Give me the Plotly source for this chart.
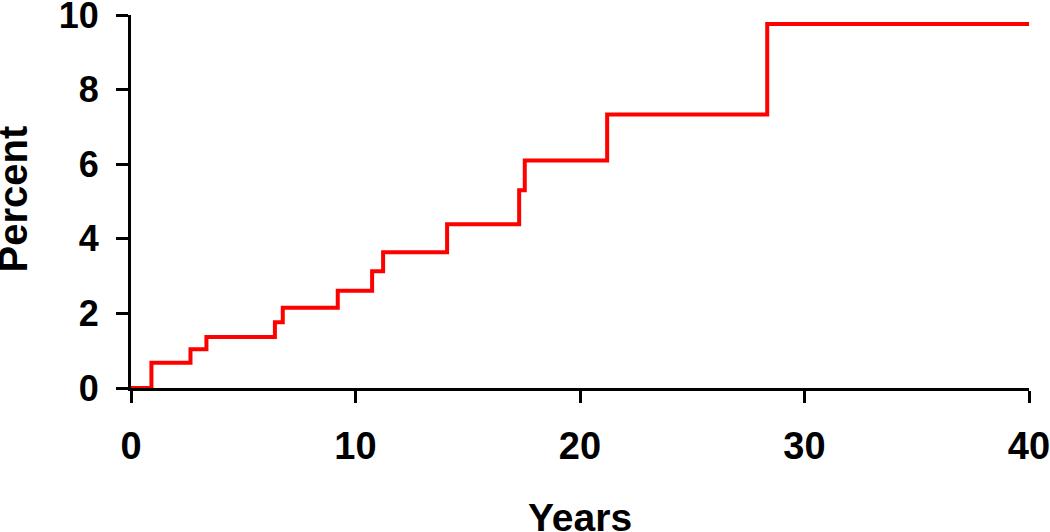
import plotly.graph_objects as go

years = [0, 0.91, 2.65, 3.36, 6.41, 6.76, 9.21, 10.74, 11.23, 14.08, 17.29, 17.54, 21.21, 28.34, 40]
percent = [0, 0.68, 1.04, 1.37, 1.76, 2.15, 2.61, 3.13, 3.64, 4.39, 5.30, 6.10, 7.33, 9.76, 9.76]
x_ticks = [0, 10, 20, 30, 40]
y_ticks = [0, 2, 4, 6, 8, 10]
x_title = "Years"
y_title = "Percent"

FONT = "Liberation Sans, Arial, sans-serif"

fig = go.Figure()
fig.add_trace(go.Scatter(
    x=years, y=percent, mode="lines", line_shape="hv",
    line=dict(color="#ff0000", width=4), cliponaxis=False, showlegend=False,
))

fig.update_layout(
    width=1050, height=532,
    margin=dict(l=131, r=21, t=15, b=144),
    paper_bgcolor="white", plot_bgcolor="white",
    font=dict(family=FONT, color="black", size=36, weight="bold"),
)
fig.update_xaxes(
    range=[0, 40], tickvals=x_ticks, showgrid=False, zeroline=False,
    showline=True, linecolor="black", linewidth=3, automargin=False,
    ticks="outside", ticklen=12, tickwidth=3, tickcolor="black",
    ticklabeloverflow="allow", ticklabelstandoff=10,
    tickfont=dict(family=FONT, size=38, weight="bold"),
)
fig.update_yaxes(
    range=[0, 10], tickvals=y_ticks, showgrid=False, zeroline=False,
    showline=True, linecolor="black", linewidth=3, automargin=False,
    ticks="outside", ticklen=12, tickwidth=3, tickcolor="black",
    ticklabeloverflow="allow", ticklabelstandoff=10,
    tickfont=dict(family=FONT, size=36, weight="bold"),
)

fig.add_annotation(
    text=x_title, xref="paper", yref="paper", x=0.5, y=-0.347,
    xanchor="center", yanchor="middle", showarrow=False,
    font=dict(family=FONT, size=39, weight="bold", color="black"),
)
fig.add_annotation(
    text=y_title, xref="paper", yref="paper", x=-0.1315, y=0.508,
    xanchor="center", yanchor="middle", showarrow=False, textangle=-90,
    font=dict(family=FONT, size=40, weight="bold", color="black"),
)

fig.write_html(
    "out.html",
    config={"displayModeBar": False},
    post_script="document.body.style.margin='0';document.body.style.overflow='hidden';",
)
